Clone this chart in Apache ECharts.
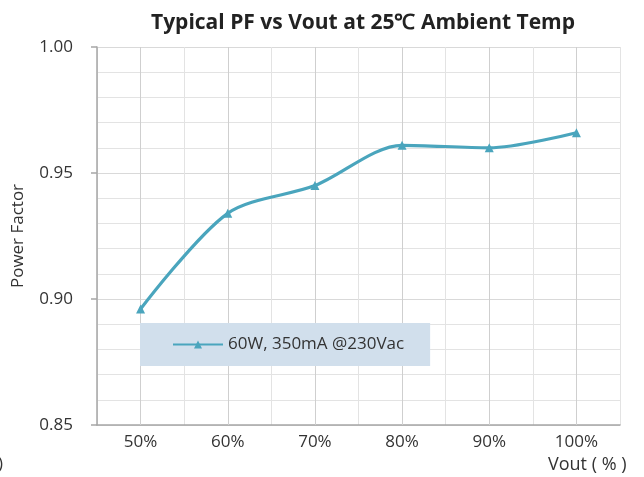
<!DOCTYPE html>
<html>
<head>
<meta charset="utf-8">
<script src="https://cdn.jsdelivr.net/npm/echarts@6/dist/echarts.min.js"></script>
<style>
html,body{margin:0;padding:0;background:#fff;}
#chart{width:644px;height:477px;}
</style>
</head>
<body>
<div id="chart"></div>
<script>
var categories = ['50%', '60%', '70%', '80%', '90%', '100%'];
var pfValues = [0.896, 0.934, 0.945, 0.961, 0.960, 0.966];
var seriesName = '60W, 350mA @230Vac';
var yTicks = [0.85, 0.90, 0.95, 1.00];

var chart = echarts.init(document.getElementById('chart'));
var font = 'Open Sans';
chart.setOption({
  animation: false,
  backgroundColor: '#ffffff',
  title: {
    text: 'Typical PF vs Vout at 25\u2103 Ambient Temp',
    left: 358, top: 8, textAlign: 'center',
    textStyle: {fontFamily: font, fontWeight: 'bold', fontSize: 21, color: '#222'}
  },
  grid: {left: 97, right: 24, top: 47, bottom: 52},
  legend: {
    left: 140, top: 323,
    padding: [13, 26, 13, 32],
    backgroundColor: '#d1dfec',
    itemWidth: 50, itemHeight: 10, itemGap: 4,
    textStyle: {fontFamily: font, fontSize: 17, color: '#333'},
    data: [seriesName]
  },
  xAxis: {
    type: 'category',
    data: categories,
    boundaryGap: true,
    axisLine: {lineStyle: {color: '#a6a6a6', width: 1.5}},
    axisTick: {length: 6, lineStyle: {color: '#a6a6a6', width: 1.5}},
    axisLabel: {fontFamily: font, fontSize: 17, color: '#333', margin: 9},
    splitLine: {show: true, lineStyle: {color: '#e3e3e3', width: 1}}
  },
  yAxis: {
    type: 'value',
    min: 0.85, max: 1.00, interval: 0.05,
    name: 'Power Factor',
    nameLocation: 'middle', nameGap: 70,
    nameTextStyle: {fontFamily: font, fontSize: 17, color: '#333'},
    axisLine: {show: true, lineStyle: {color: '#a6a6a6', width: 1.5}},
    axisTick: {show: true, length: 6, lineStyle: {color: '#a6a6a6', width: 1.5}},
    axisLabel: {fontFamily: font, fontSize: 17, color: '#333', margin: 24,
      formatter: function (v) { return v.toFixed(2); }},
    splitLine: {show: true, lineStyle: {color: '#d9d9d9', width: 1}},
    minorTick: {show: false, splitNumber: 5},
    minorSplitLine: {show: true, lineStyle: {color: '#e3e3e3', width: 1}}
  },
  series: [{
    name: seriesName,
    type: 'line',
    data: pfValues,
    smooth: 0.3,
    symbol: 'triangle',
    symbolSize: 9,
    itemStyle: {color: '#4aa5bd'},
    lineStyle: {color: '#4aa5bd', width: 3.2},
    markLine: {
      silent: true,
      symbol: 'none',
      label: {show: false},
      lineStyle: {color: '#cfcfcf', width: 1, type: 'solid'},
      z: 1,
      data: categories.map(function (c) { return {xAxis: c}; })
    }
  }],
  graphic: [
    {type: 'text', left: 548, top: 456,
      style: {text: 'Vout ( % )', fontFamily: font, fontSize: 18, fill: '#333'}},
    {type: 'text', left: -2, top: 456,
      style: {text: ')', fontFamily: font, fontSize: 17, fill: '#333'}}
  ]
});
</script>
</body>
</html>
